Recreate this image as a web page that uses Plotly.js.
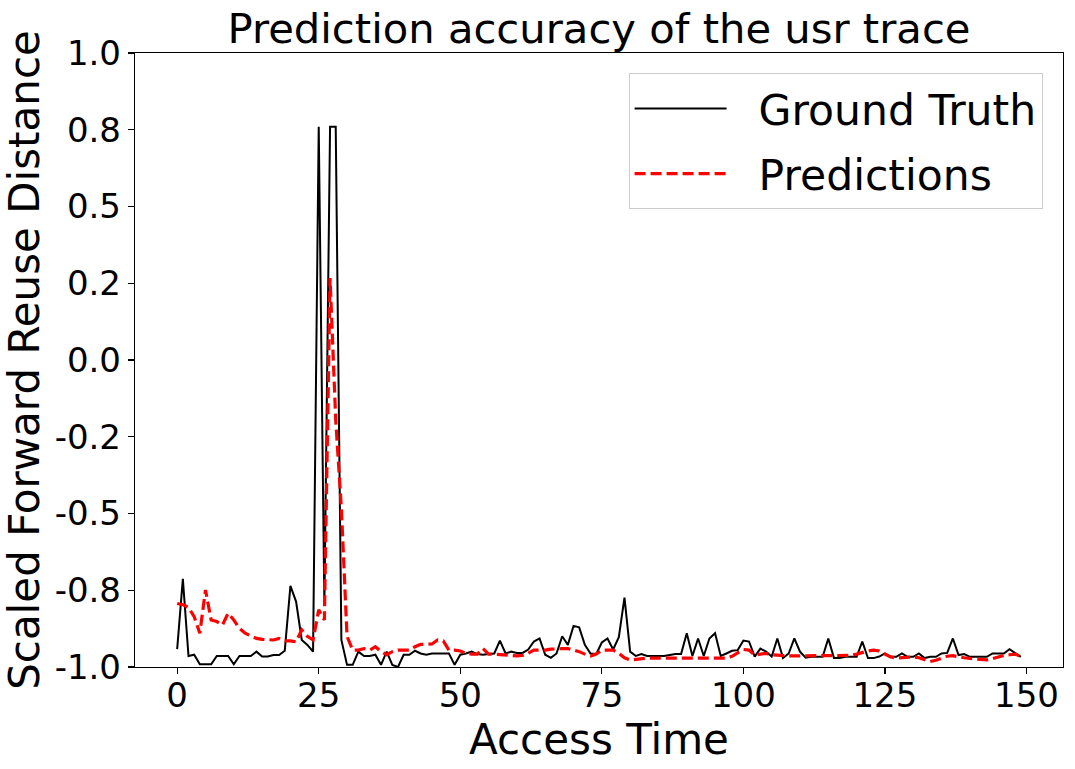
<!DOCTYPE html>
<html>
<head>
<meta charset="utf-8">
<script src="https://cdn.plot.ly/plotly-3.0.1.min.js"></script>
<style>html,body{margin:0;padding:0;background:#fff;}#chart{width:1075px;height:769px;}</style>
</head>
<body>
<div id="chart"></div>
<script>
var groundTruth = [
  -0.942, -0.713, -0.964, -0.960, -0.991, -0.991, -0.991, -0.964, -0.964, -0.964,
  -0.991, -0.964, -0.964, -0.964, -0.950, -0.966, -0.966, -0.961, -0.961, -0.947,
  -0.736, -0.787, -0.912, -0.928, -0.950, 0.760, -0.800, 0.760, 0.760, -0.912,
  -0.993, -0.993, -0.950, -0.964, -0.964, -0.960, -0.993, -0.950, -0.993, -1.000,
  -0.960, -0.960, -0.947, -0.956, -0.960, -0.956, -0.956, -0.956, -0.956, -0.993,
  -0.960, -0.956, -0.950, -0.958, -0.960, -0.958, -0.956, -0.914, -0.956, -0.950,
  -0.954, -0.954, -0.943, -0.917, -0.907, -0.960, -0.970, -0.956, -0.900, -0.928,
  -0.866, -0.871, -0.928, -0.956, -0.958, -0.920, -0.907, -0.943, -0.903, -0.774,
  -0.950, -0.964, -0.958, -0.964, -0.964, -0.964, -0.964, -0.961, -0.958, -0.958,
  -0.890, -0.964, -0.907, -0.964, -0.907, -0.890, -0.964, -0.956, -0.947, -0.945,
  -0.914, -0.917, -0.966, -0.940, -0.950, -0.966, -0.907, -0.971, -0.956, -0.907,
  -0.950, -0.970, -0.967, -0.967, -0.967, -0.907, -0.971, -0.971, -0.967, -0.967,
  -0.967, -0.917, -0.971, -0.971, -0.966, -0.956, -0.967, -0.967, -0.956, -0.967,
  -0.967, -0.956, -0.971, -0.967, -0.967, -0.956, -0.954, -0.907, -0.961, -0.958,
  -0.967, -0.967, -0.967, -0.967, -0.956, -0.956, -0.956, -0.942, -0.956, -0.967
];
var predictions = [
  -0.793, -0.797, -0.806, -0.836, -0.890, -0.749, -0.847, -0.852, -0.863, -0.825,
  -0.847, -0.874, -0.890, -0.899, -0.907, -0.910, -0.912, -0.912, -0.907, -0.915,
  -0.915, -0.918, -0.879, -0.900, -0.912, -0.814, -0.847, 0.267, -0.195, -0.484,
  -0.900, -0.945, -0.945, -0.940, -0.945, -0.934, -0.950, -0.960, -0.950, -0.945,
  -0.945, -0.945, -0.934, -0.926, -0.926, -0.925, -0.912, -0.915, -0.945, -0.945,
  -0.948, -0.955, -0.958, -0.958, -0.940, -0.958, -0.958, -0.960, -0.962, -0.964,
  -0.964, -0.962, -0.955, -0.945, -0.945, -0.945, -0.942, -0.940, -0.940, -0.940,
  -0.945, -0.950, -0.958, -0.964, -0.958, -0.945, -0.945, -0.945, -0.955, -0.970,
  -0.977, -0.975, -0.972, -0.971, -0.971, -0.971, -0.971, -0.971, -0.971, -0.971,
  -0.971, -0.971, -0.971, -0.971, -0.971, -0.971, -0.971, -0.971, -0.965, -0.955,
  -0.943, -0.945, -0.962, -0.958, -0.956, -0.960, -0.962, -0.964, -0.964, -0.964,
  -0.964, -0.964, -0.964, -0.964, -0.964, -0.964, -0.964, -0.963, -0.963, -0.962,
  -0.958, -0.952, -0.948, -0.945, -0.948, -0.958, -0.967, -0.971, -0.969, -0.968,
  -0.967, -0.970, -0.977, -0.982, -0.978, -0.972, -0.965, -0.963, -0.967, -0.970,
  -0.972, -0.974, -0.976, -0.977, -0.973, -0.968, -0.962, -0.960, -0.958, -0.965
];
var yTickVals = [-1.0, -0.75, -0.5, -0.25, 0.0, 0.25, 0.5, 0.75, 1.0];
var yTickText = ["-1.0", "-0.8", "-0.5", "-0.2", "0.0", "0.2", "0.5", "0.8", "1.0"];
var xTickVals = [0, 25, 50, 75, 100, 125, 150];
var seriesNames = ["Ground Truth", "Predictions"];
var timeIdx = groundTruth.map(function (_, i) { return i; });

var FONT = "DejaVu Sans, sans-serif";
var PAD = "\u00a0\u00a0";
var traces = [
  { x: timeIdx, y: groundTruth, type: "scatter", mode: "lines", name: PAD + seriesNames[0],
    legendgroup: "g1", line: { color: "#000000", width: 2 } },
  { x: timeIdx, y: predictions, type: "scatter", mode: "lines", name: PAD + seriesNames[1],
    legendgroup: "g2", line: { color: "#ff0000", width: 3.2, dash: "11px,5px" } }
];
var layout = {
  width: 1075, height: 769,
  margin: { l: 135, r: 12, t: 53, b: 102 },
  paper_bgcolor: "#ffffff", plot_bgcolor: "#ffffff",
  font: { family: FONT, color: "#000000" },
  title: { text: "Prediction accuracy of the usr trace", font: { family: FONT, size: 41.7, color: "#000" },
           x: 0.5, xref: "paper", y: 0.982, yref: "container", yanchor: "top" },
  xaxis: {
    range: [-7.45, 156.45], tickvals: xTickVals, ticks: "outside", ticklen: 6, tickwidth: 1.2,
    tickcolor: "#000", showgrid: false, zeroline: false, showline: true, linecolor: "#000",
    linewidth: 1.2, mirror: true, tickfont: { family: FONT, size: 34, color: "#000" },
    ticklabelstandoff: -8,
    title: { text: "Access Time", font: { family: FONT, size: 42, color: "#000" }, standoff: 1 },
    automargin: false
  },
  yaxis: {
    range: [-1, 1], tickvals: yTickVals, ticktext: yTickText, ticks: "outside", ticklen: 6, tickwidth: 1.2,
    tickcolor: "#000", showgrid: false, zeroline: false, showline: true, linecolor: "#000",
    linewidth: 1.2, mirror: true, tickfont: { family: FONT, size: 34, color: "#000" },
    title: { text: "Scaled Forward Reuse Distance", font: { family: FONT, size: 42, color: "#000" }, standoff: 8 },
    automargin: false
  },
  showlegend: true,
  legend: {
    x: 0.978, y: 0.967, xanchor: "right", yanchor: "top",
    bgcolor: "rgba(255,255,255,0.8)", bordercolor: "#cccccc", borderwidth: 1,
    font: { family: FONT, size: 42.5, color: "#000" }, itemwidth: 92, tracegroupgap: 7
  }
};
Plotly.newPlot("chart", traces, layout, { displayModeBar: false, staticPlot: true });
</script>
</body>
</html>
